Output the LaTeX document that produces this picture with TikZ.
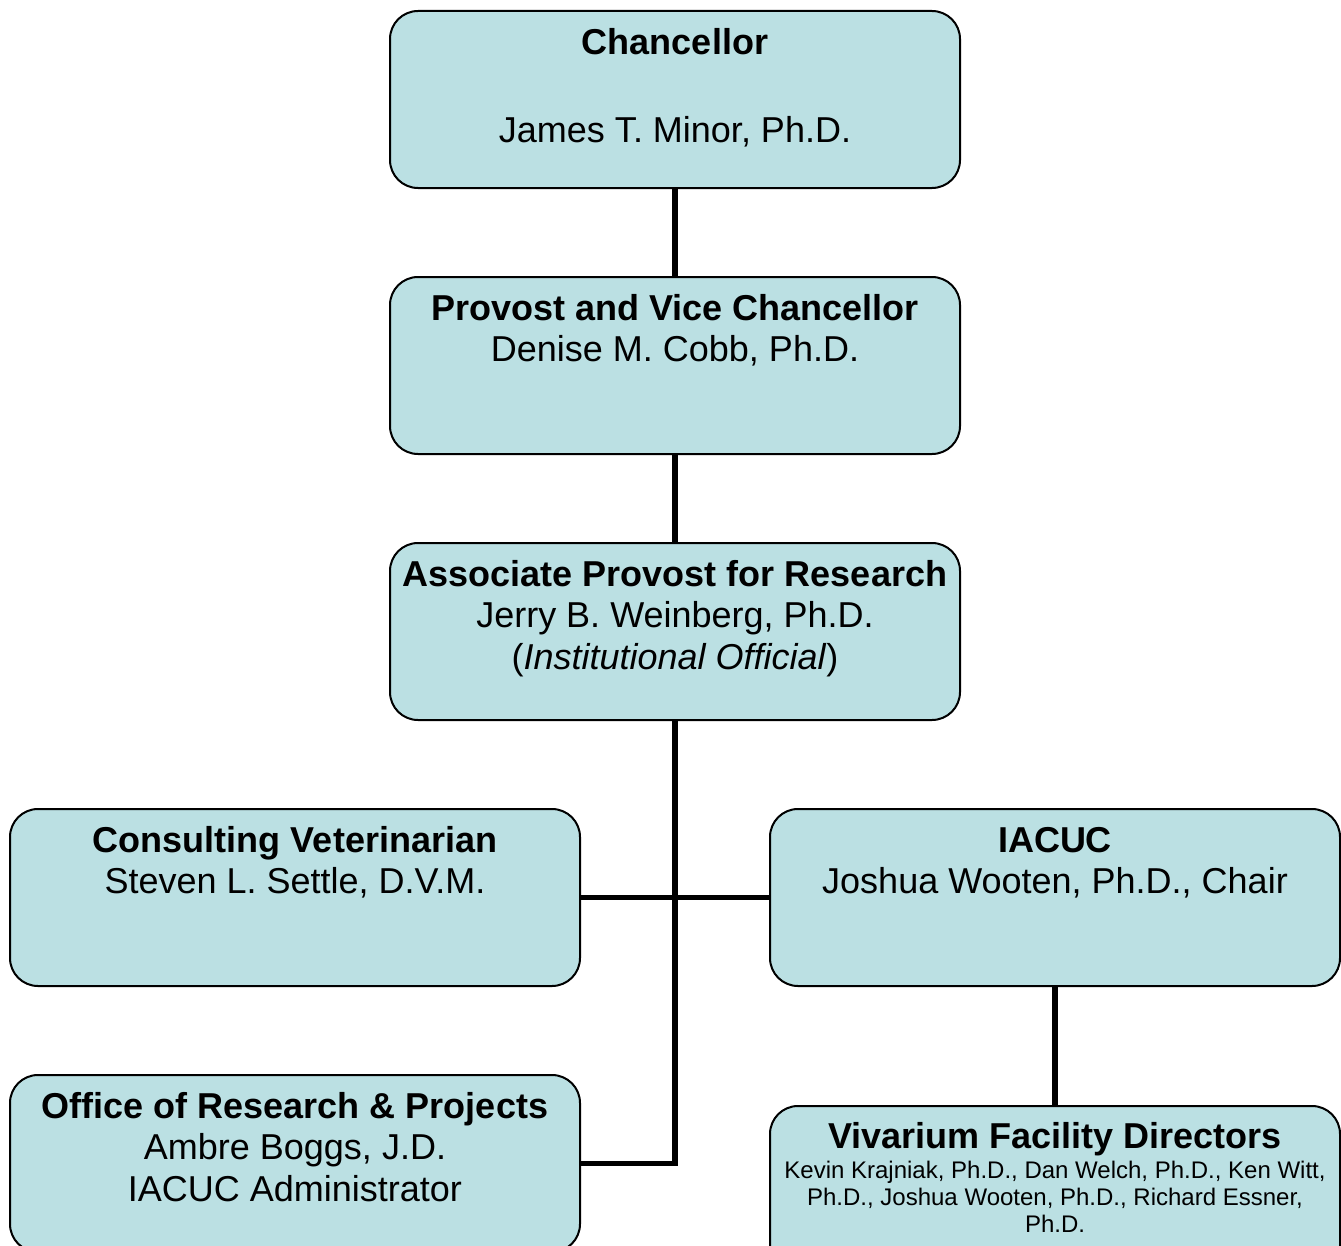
\documentclass[tikz,border=0pt]{standalone}
\usepackage{fontspec}
\setmainfont{Liberation Sans}
\usepackage{xcolor}
\definecolor{boxfill}{RGB}{187,224,227}
% text block of one box, first baseline at #1 from the top
\newcommand{\orgtext}[2][32.5pt]{\parbox[c][132.75pt][t]{427.5pt}{\centering\rule{0pt}{#1}#2}}

\begin{document}
\begin{tikzpicture}[x=0.75pt,y=0.75pt,yscale=-1,xscale=1,
    orgunit/.style={draw=black, fill=boxfill, line width=1.5pt, rounded corners=21pt, inner sep=0pt, font=\fontsize{27}{31}\selectfont},
    link/.style={line width=4pt}]
    \useasboundingbox (0,0) rectangle (1341,1245);

    %Shape: Rounded Rect [id:chan]
    \node [orgunit] (chan) at (675,99.5) {\orgtext{\textbf{Chancellor}\\[35pt] James T. Minor, Ph.D.}};
    %Shape: Rounded Rect [id:prov]
    \node [orgunit] (prov) at (675,365.5) {\orgtext{\textbf{Provost and Vice Chancellor}\\ Denise M. Cobb, Ph.D.}};
    %Shape: Rounded Rect [id:assoc]
    \node [orgunit] (assoc) at (675,631.5) {\orgtext{\textbf{Associate Provost for Research}\\ Jerry B. Weinberg, Ph.D.\\ (\textit{Institutional Official})}};
    %Shape: Rounded Rect [id:vet]
    \node [orgunit] (vet) at (295,897.5) {\orgtext{\textbf{Consulting Veterinarian}\\ Steven L. Settle, D.V.M.}};
    %Shape: Rounded Rect [id:iacuc]
    \node [orgunit] (iacuc) at (1055,897.5) {\orgtext{\textbf{IACUC}\\ Joshua Wooten, Ph.D., Chair}};
    %Shape: Rounded Rect [id:office]
    \node [orgunit] (office) at (295,1163.5) {\orgtext{\textbf{Office of Research \& Projects}\\ Ambre Boggs, J.D.\\ IACUC Administrator}};
    %Shape: Rounded Rect [id:viv]
    \node [orgunit] (viv) at (1055,1194.5) {\orgtext[31.5pt]{\textbf{Vivarium Facility Directors}\par\vspace{1.9pt}
        {\fontsize{18}{20.6}\selectfont Kevin Krajniak, Ph.D., Dan Welch, Ph.D., Ken Witt,\\ Ph.D., Joshua Wooten, Ph.D., Richard Essner,\\ Ph.D.\par}}};

    %Straight Lines
    \draw [link] (chan) -- (prov) ;
    \draw [link] (prov) -- (assoc) ;
    \draw [link] (assoc.south) |- (office.east) ;
    \draw [link] (vet.east) -- (iacuc.west) ;
    \draw [link] (iacuc) -- (viv) ;

\end{tikzpicture}
\end{document}
